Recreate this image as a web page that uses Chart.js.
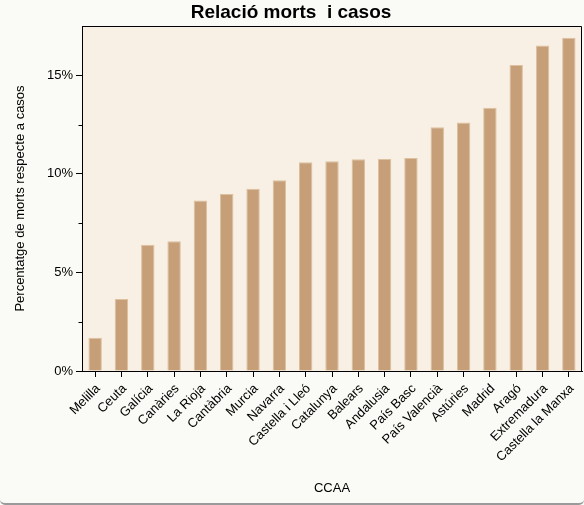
<!DOCTYPE html>
<html>
<head>
<meta charset="utf-8">
<script src="https://cdn.jsdelivr.net/npm/chart.js@4"></script>
<style>
  html, body { margin: 0; padding: 0; background: #fafaf6; }
  #wrap { width: 584px; height: 505px; box-sizing: border-box; border-bottom: 2px solid #9a9a9a; border-radius: 0 0 5px 5px; overflow: hidden; }
  canvas { display: block; }
</style>
</head>
<body>
<div id="wrap"><canvas id="c" width="584" height="503"></canvas></div>
<script>
const categories = ["Melilla", "Ceuta", "Galícia", "Canàries", "La Rioja", "Cantàbria", "Murcia", "Navarra", "Castella i Lleó", "Catalunya", "Balears", "Andalusia", "País Basc", "País Valencià", "Astúries", "Madrid", "Aragó", "Extremadura", "Castella la Manxa"];
const values = [1.69, 3.65, 6.40, 6.58, 8.65, 8.98, 9.24, 9.68, 10.59, 10.64, 10.74, 10.75, 10.81, 12.37, 12.60, 13.35, 15.52, 16.51, 16.90];
const majorTicks = [0, 5, 10, 15];
const minorTicks = [2.5, 7.5, 12.5];
const titleText = "Relació morts  i casos";
const xTitle = "CCAA";
const yTitle = "Percentatge de morts respecte a casos";

const FONT = "'Liberation Sans', Arial, Helvetica, sans-serif";

const decor = {
  id: 'decor',
  beforeDraw(chart) {
    const { ctx, chartArea: a } = chart;
    ctx.save();
    ctx.fillStyle = '#f8f0e5';
    ctx.fillRect(a.left, a.top, a.right - a.left, a.bottom - a.top);
    ctx.restore();
  },
  afterDraw(chart) {
    const { ctx, chartArea: a } = chart;
    const y = chart.scales.y;
    ctx.save();
    ctx.strokeStyle = '#000';
    ctx.lineWidth = 1;
    ctx.beginPath();
    ctx.moveTo(a.left, a.top + 0.5);
    ctx.lineTo(a.right - 0.5, a.top + 0.5);
    ctx.lineTo(a.right - 0.5, a.bottom);
    ctx.stroke();
    ctx.beginPath();
    minorTicks.forEach(v => {
      const py = Math.round(y.getPixelForValue(v)) + 0.5;
      ctx.moveTo(a.left - 3.5, py);
      ctx.lineTo(a.left, py);
    });
    ctx.stroke();
    ctx.restore();
  }
};

new Chart(document.getElementById('c'), {
  type: 'bar',
  data: {
    labels: categories,
    datasets: [{
      data: values,
      backgroundColor: '#c69f79',
      borderColor: '#dcc09f',
      borderWidth: 1,
      barPercentage: 0.51,
      categoryPercentage: 1.0
    }]
  },
  options: {
    responsive: false,
    animation: false,
    devicePixelRatio: 1,
    layout: { padding: { left: 0, right: 2, top: 0, bottom: 0 } },
    plugins: {
      legend: { display: false },
      tooltip: { enabled: false },
      title: {
        display: true,
        text: titleText,
        color: '#000',
        font: { family: FONT, size: 19, weight: 'bold' },
        padding: { top: 1, bottom: 2.2 }
      }
    },
    scales: {
      x: {
        offset: true,
        grid: { display: true, drawOnChartArea: false, drawTicks: true, tickLength: 6, tickColor: '#000', offset: false },
        border: { display: true, color: '#000', width: 1 },
        ticks: { autoSkip: false, minRotation: 45, maxRotation: 45, color: '#000', font: { family: FONT, size: 13 }, padding: 4, labelOffset: 3 },
        title: { display: true, text: xTitle, color: '#000', font: { family: FONT, size: 13 }, padding: { top: 4, bottom: 7 } },
        afterFit(s) { s.height = 132; }
      },
      y: {
        min: 0,
        max: 17.5,
        afterBuildTicks(s) { s.ticks = majorTicks.map(v => ({ value: v })); },
        grid: { display: true, drawOnChartArea: false, drawTicks: true, tickLength: 6, tickColor: '#000' },
        border: { display: true, color: '#000', width: 1 },
        ticks: { color: '#000', font: { family: FONT, size: 13 }, padding: 3, callback: v => v + '%' },
        title: { display: true, text: yTitle, color: '#000', font: { family: FONT, size: 13 }, padding: { top: 13, bottom: 0 } },
        afterFit(s) { s.width = 82; }
      }
    }
  },
  plugins: [decor]
});
</script>
</body>
</html>
